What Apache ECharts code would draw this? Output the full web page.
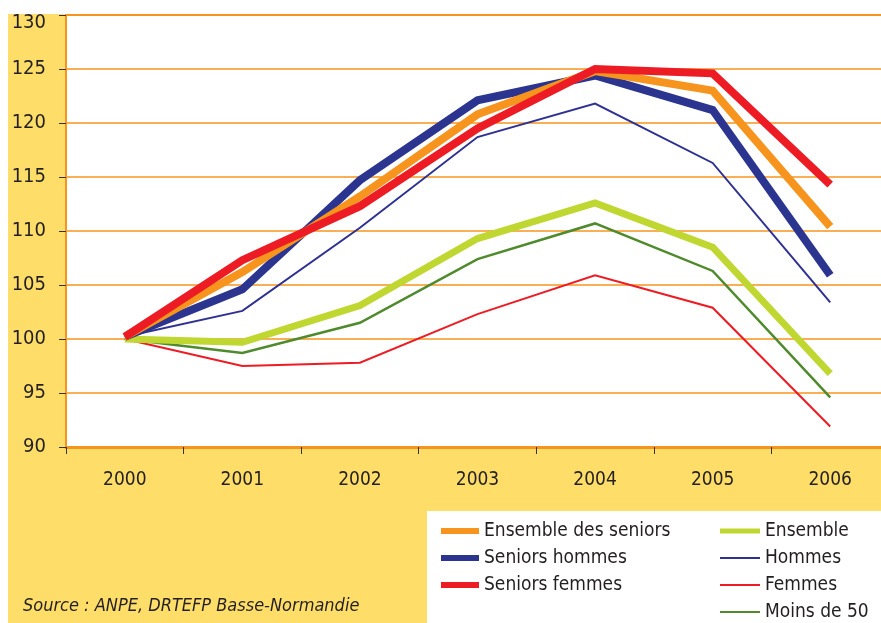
<!DOCTYPE html>
<html>
<head>
<meta charset="utf-8">
<script src="https://cdn.jsdelivr.net/npm/echarts@6/dist/echarts.min.js"></script>
<style>html,body{margin:0;padding:0;background:#fff;}#c{width:881px;height:623px;}</style>
</head>
<body>
<div id="c"></div>
<script>
var years = ['2000','2001','2002','2003','2004','2005','2006'];
var ensembleSeniors = [100.2, 106.2, 113.2, 120.8, 124.8, 123.0, 110.4];
var seniorsHommes   = [100.2, 104.6, 114.7, 122.1, 124.4, 121.2, 105.9];
var seniorsFemmes   = [100.2, 107.3, 112.3, 119.5, 125.0, 124.6, 114.3];
var ensemble        = [100.0, 99.7, 103.1, 109.3, 112.6, 108.5, 96.8];
var hommes          = [100.2, 102.6, 110.3, 118.7, 121.8, 116.3, 103.4];
var femmes          = [100.0, 97.5, 97.8, 102.3, 105.9, 102.9, 91.9];
var moinsDe50       = [100.0, 98.7, 101.5, 107.4, 110.7, 106.3, 94.6];
var yTicks = [90, 95, 100, 105, 110, 115, 120, 125, 130];

var FONT = "'Liberation Sans Narrow','DejaVu Sans Condensed','Roboto',sans-serif";
var chart = echarts.init(document.getElementById('c'));

function line(name, data, color, width) {
  return {name: name, type: 'line', data: data, symbol: 'none', showSymbol: false,
    lineStyle: {color: color, width: width, join: 'miter'}, itemStyle: {color: color},
    emphasis: {disabled: true}, animation: false};
}
var legendText = {fontFamily: FONT, fontSize: 19, color: '#231F20', lineHeight: 20};

chart.setOption({
  backgroundColor: '#FEDD68',
  animation: false,
  graphic: [
    {type: 'rect', left: 0, top: 0, shape: {width: 881, height: 14}, style: {fill: '#fff'}, z: -10},
    {type: 'rect', left: 0, top: 0, shape: {width: 8, height: 623}, style: {fill: '#fff'}, z: -10},
    {type: 'rect', left: 66, top: 14, shape: {width: 815, height: 434}, style: {fill: '#fff'}, z: -10},
    {type: 'rect', left: 427, top: 511, shape: {width: 454, height: 112}, style: {fill: '#fff'}, z: -10}
  ],
  title: {
    text: 'Source : ANPE, DRTEFP Basse-Normandie', left: 23, top: 597, padding: 0,
    textStyle: {fontFamily: FONT, fontStyle: 'italic', fontWeight: 'normal', fontSize: 18, color: '#231F20'}
  },
  grid: {left: 66, top: 15, width: 823, bottom: 176, containLabel: false, outerBoundsMode: 'none'},
  xAxis: [{
    type: 'category', data: years, boundaryGap: true,
    axisLine: {show: true, lineStyle: {color: '#F7941D', width: 3}},
    axisTick: {show: true, length: 7, lineStyle: {color: '#333', width: 1}},
    axisLabel: {fontFamily: FONT, fontSize: 19, color: '#231F20', margin: 24}
  }, {
    type: 'category', data: years, boundaryGap: true, position: 'top',
    axisLine: {show: true, lineStyle: {color: '#F7941D', width: 2}},
    axisTick: {show: false}, axisLabel: {show: false}, splitLine: {show: false}
  }],
  yAxis: {
    type: 'value', min: 90, max: 130, interval: 5,
    axisLine: {show: true, lineStyle: {color: '#F7941D', width: 2}},
    axisTick: {show: true, length: 7, lineStyle: {color: '#333', width: 1}},
    axisLabel: {fontFamily: FONT, fontSize: 20, color: '#231F20', margin: 20,
      formatter: function (v) {
        if (yTicks.indexOf(v) < 0) return '';
        return v === 130 ? '{top|' + v + '}' : String(v);
      },
      rich: {top: {fontFamily: FONT, fontSize: 20, color: '#231F20', padding: [16, 0, 0, 0]}}},
    splitLine: {show: true, lineStyle: {color: '#F7941D', width: 1.5}}
  },
  legend: [
    {orient: 'vertical', left: 436, top: 516, height: 100, itemWidth: 38, itemHeight: 6, itemGap: 7,
      icon: 'rect', data: ['Ensemble des seniors', 'Seniors hommes', 'Seniors femmes'],
      textStyle: legendText, selectedMode: false},
    {orient: 'vertical', left: 715, top: 516, height: 30, itemWidth: 40, itemHeight: 5, itemGap: 7,
      icon: 'rect', data: ['Ensemble'],
      textStyle: legendText, selectedMode: false},
    {orient: 'vertical', left: 715, top: 543, height: 80, itemWidth: 40, itemHeight: 2, itemGap: 7,
      icon: 'rect', data: ['Hommes', 'Femmes', 'Moins de 50'],
      textStyle: legendText, selectedMode: false}
  ],
  series: [
    line('Hommes', hommes, '#2E3192', 2),
    line('Femmes', femmes, '#ED1C24', 2),
    line('Moins de 50', moinsDe50, '#4F8A2C', 2.5),
    line('Ensemble', ensemble, '#BFD730', 7),
    line('Seniors hommes', seniorsHommes, '#2B3590', 8),
    line('Ensemble des seniors', ensembleSeniors, '#F7941D', 8),
    line('Seniors femmes', seniorsFemmes, '#ED1C24', 8)
  ]
});
</script>
</body>
</html>
